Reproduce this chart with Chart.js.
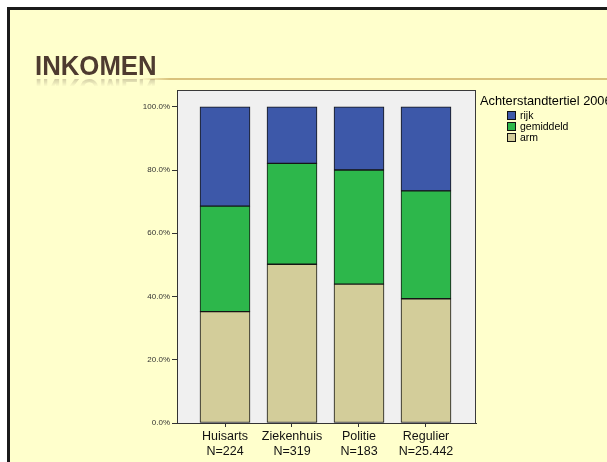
<!DOCTYPE html>
<html>
<head>
<meta charset="utf-8">
<script src="https://cdn.jsdelivr.net/npm/chart.js@4/dist/chart.umd.min.js"></script>
<style>
  html, body { margin: 0; padding: 0; background: #ffffff; overflow: hidden; }
  #slide { position: absolute; left: 7px; top: 7px; width: 620px; height: 470px;
           background: #FFFFCC; border-top: 3px solid #1b1b1b; border-left: 3px solid #1b1b1b; }
  #rule { position: absolute; left: 140px; top: 78px; width: 467px; height: 2px;
          background: linear-gradient(to right, rgba(216,192,120,0) 0px, #D9C27C 30px, #D9C27C 100%); }
  .ttl { position: absolute; left: 35px; font-family: "Liberation Sans", Arial, sans-serif; font-weight: bold;
         font-size: 28px; color: #4E3B30; transform-origin: 0 0; white-space: nowrap; line-height: 28px; }
  #title { top: 52px; transform: scaleX(0.92); }
  #reflect { top: 52px; transform: translateY(50px) scaleX(0.92) scaleY(-1); opacity: 0.45;
             -webkit-mask-image: linear-gradient(to top, rgba(0,0,0,0.9) 0%, rgba(0,0,0,0) 45%);
             mask-image: linear-gradient(to top, rgba(0,0,0,0.9) 0%, rgba(0,0,0,0) 45%); }
  #c { position: absolute; left: 0; top: 0; }
</style>
</head>
<body>
<div id="slide"></div>
<div id="rule"></div>
<div class="ttl" id="title">INKOMEN</div>
<div class="ttl" id="reflect" aria-hidden="true">INKOMEN</div>
<canvas id="c" width="607" height="462"></canvas>
<script>
const categories = ['Huisarts', 'Ziekenhuis', 'Politie', 'Regulier'];
const counts = ['N=224', 'N=319', 'N=183', 'N=25.442'];
const arm = [35.2, 50.2, 43.9, 39.3];
const gemiddeld = [33.4, 31.9, 36.1, 34.1];
const rijk = [31.4, 17.9, 20.0, 26.6];
const yTicks = [0, 20, 40, 60, 80, 100];
const legendTitle = 'Achterstandtertiel 2006';

const toPoints = arr => arr.map((v, i) => ({ x: i, y: v }));

const plotBg = {
  id: 'plotBg',
  beforeDraw(chart) {
    const { ctx, chartArea: a } = chart;
    ctx.save();
    ctx.fillStyle = '#F0F0F0';
    ctx.fillRect(a.left, a.top, a.right - a.left, a.bottom - a.top);
    ctx.strokeStyle = '#3a3a3a';
    ctx.lineWidth = 1;
    ctx.strokeRect(a.left + 0.5, a.top + 0.5, a.right - a.left - 1, a.bottom - a.top);
    ctx.restore();
  }
};

const customLegend = {
  id: 'customLegend',
  afterDraw(chart) {
    const { ctx, chartArea: a } = chart;
    ctx.save();
    ctx.textBaseline = 'middle';
    ctx.textAlign = 'left';
    ctx.fillStyle = '#000';
    ctx.font = '12.8px "Liberation Sans", Arial, sans-serif';
    ctx.fillText(legendTitle, a.right + 4, a.top + 11);
    const ds = chart.data.datasets.slice().reverse();
    ctx.font = '10.5px "Liberation Sans", Arial, sans-serif';
    ds.forEach((d, i) => {
      const x = a.right + 31, y = a.top + 21 + i * 11;
      ctx.fillStyle = d.backgroundColor;
      ctx.fillRect(x, y, 9, 9);
      ctx.strokeStyle = '#111';
      ctx.lineWidth = 1;
      ctx.strokeRect(x + 0.5, y + 0.5, 8, 8);
      ctx.fillStyle = '#000';
      ctx.fillText(d.label, x + 13, y + 5);
    });
    ctx.restore();
  }
};

const barStyle = { borderColor: '#151515', borderWidth: 1, borderSkipped: false, barThickness: 50 };

new Chart(document.getElementById('c'), {
  type: 'bar',
  data: {
    datasets: [
      Object.assign({ label: 'arm', data: toPoints(arm), backgroundColor: '#D3CD9A' }, barStyle),
      Object.assign({ label: 'gemiddeld', data: toPoints(gemiddeld), backgroundColor: '#2DB74B' }, barStyle),
      Object.assign({ label: 'rijk', data: toPoints(rijk), backgroundColor: '#3D58A9' }, barStyle)
    ]
  },
  options: {
    responsive: false,
    devicePixelRatio: 1,
    animation: false,
    layout: { padding: { left: 0, top: 90, right: 131, bottom: 0 } },
    plugins: { legend: { display: false }, tooltip: { enabled: false } },
    scales: {
      x: {
        type: 'linear', stacked: true, offset: false, min: -0.716418, max: 3.746269,
        afterFit: s => { s.height = 39; },
        afterBuildTicks: s => { s.ticks = categories.map((c, i) => ({ value: i })); },
        grid: { display: true, drawOnChartArea: false, drawTicks: true, tickLength: 4, color: '#333', offset: false },
        border: { display: true, color: '#333' },
        ticks: {
          padding: 2, color: '#111', maxRotation: 0, autoSkip: false,
          font: { family: '"Liberation Sans", Arial, sans-serif', size: 12.5, lineHeight: 1.2 },
          callback: v => [categories[v], counts[v]]
        }
      },
      y: {
        stacked: true, min: 0, max: 105.3,
        afterFit: s => { s.width = 177; },
        afterBuildTicks: s => { s.ticks = yTicks.map(v => ({ value: v })); },
        grid: { display: true, drawOnChartArea: false, drawTicks: true, tickLength: 5, color: '#333' },
        border: { display: true, color: '#333' },
        ticks: {
          padding: 2, color: '#333',
          font: { family: '"Liberation Sans", Arial, sans-serif', size: 8 },
          callback: v => v.toFixed(1) + '%'
        }
      }
    }
  },
  plugins: [plotBg, customLegend]
});
</script>
</body>
</html>
